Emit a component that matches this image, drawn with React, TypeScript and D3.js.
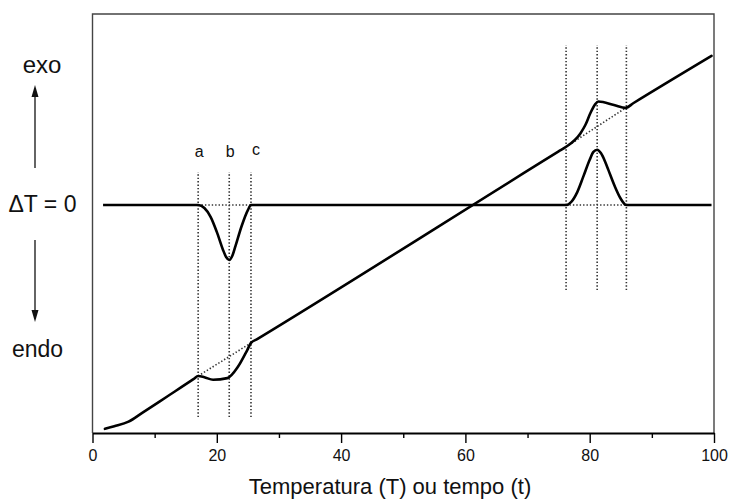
import React, {useRef, useEffect} from 'react';
import * as d3 from 'd3';

// DTA signal (delta T), y in arbitrary units 0..100
const dtaTemp = [1.7, 10, 16, 17, 18, 19, 20, 21, 21.5, 22, 22.5, 23, 24, 25, 25.5, 27, 60, 75, 76.2, 77, 78, 79, 80, 80.6, 81.2, 81.8, 82.5, 83, 84, 85, 85.9, 87, 99.6];
const dtaSignal = [54.4, 54.4, 54.4, 54.4, 53.7, 51.6, 48.0, 43.7, 42.0, 41.3, 42.3, 44.6, 49.4, 53.2, 54.4, 54.4, 54.4, 54.4, 54.4, 55.1, 57.5, 61.3, 65.2, 67.1, 67.6, 66.8, 64.7, 62.8, 59.0, 55.9, 54.4, 54.4, 54.4];

// sample temperature curve
const sampleTemp = [2, 3.5, 5.8, 8, 11.9, 16.3, 17, 18, 19.4, 21.7, 23.4, 24.9, 25.5, 26.5, 75, 76.2, 78.5, 79.3, 80.1, 80.9, 81.4, 83.9, 85.8, 87, 99.6];
const sampleSignal = [1.0, 1.6, 2.7, 4.8, 8.6, 12.9, 13.6, 13.3, 12.7, 13.1, 15.8, 19.8, 21.5, 22.4, 67.2, 68.3, 71.5, 73.5, 76.3, 78.5, 79.1, 78.3, 77.6, 78.7, 90.0];

// transition markers a, b, c and the exothermic event
const markerTemps = [17, 22, 25.5, 76.2, 81.2, 85.9];
const markerLabels = ['a', 'b', 'c'];
const markerSpanLow = [3.8, 62.3];
const markerSpanHigh = [34.1, 92.6];

// extrapolated baselines (dotted)
const extrapLow = [[17, 13.6], [25.5, 21.5]];
const extrapHigh = [[76.2, 68.3], [85.8, 77.6]];
const dtaBase = 54.4;

const majorTicks = [0, 20, 40, 60, 80, 100];
const minorTicks = [10, 30, 50, 70, 90];

export default function App(){
        const ref = useRef(null);

        const margin = {top: 14, right: 15, bottom: 66, left: 92.5};
        const W = 729, H = 499;
        const width = W - margin.left - margin.right;
        const height = H - margin.top - margin.bottom;
        const font = "'Liberation Sans', Arial, sans-serif";

        useEffect(() => {
            const svg = d3.select(ref.current);
            svg.selectAll('*').remove();

            const x = d3.scaleLinear().domain([0, 100]).range([0, width]);
            const y = d3.scaleLinear().domain([0, 100]).range([height, 0]);

            const g = svg.append('g')
            .attr('transform', 'translate(' + margin.left + ',' + margin.top + ')');

// frame
            g.append('path')
            .attr('d', `M0,${height}V0H${width}V${height}`)
            .attr('fill', 'none')
            .attr('stroke', '#444')
            .attr('stroke-width', 1.4);

// x axis, major + minor ticks
            const ax = g.append('g')
            .attr('transform', 'translate(0,' + height + ')')
            .call(d3.axisBottom(x).tickValues(majorTicks).tickSize(10).tickPadding(7).tickSizeOuter(0).tickFormat(d3.format('d')));
            ax.select('.domain').attr('stroke-width', 1.8);
            ax.selectAll('.tick line').attr('stroke-width', 1.4);
            ax.selectAll('text').attr('font-size', 16).attr('font-family', font).attr('fill', '#111');

            const mx = g.append('g')
            .attr('transform', 'translate(0,' + height + ')')
            .call(d3.axisBottom(x).tickValues(minorTicks).tickSize(5).tickFormat(() => ''));
            mx.select('.domain').remove();
            mx.selectAll('.tick line').attr('stroke-width', 1.4);

            const dotted = (sel) => sel
            .attr('stroke', '#333')
            .attr('stroke-width', 1.6)
            .attr('stroke-dasharray', '1.4 2')
            .attr('fill', 'none');

// vertical marker lines
            g.append('g')
            .selectAll('line')
            .data(markerTemps)
            .enter()
            .append('line')
            .attr('x1', d => x(d))
            .attr('x2', d => x(d))
            .attr('y1', (d, i) => y(i < 3 ? markerSpanLow[0] : markerSpanHigh[0]))
            .attr('y2', (d, i) => y(i < 3 ? markerSpanLow[1] : markerSpanHigh[1]))
            .call(dotted);

// dotted baselines
            const straight = d3.line().x(d => x(d[0])).y(d => y(d[1]));
            [extrapLow, extrapHigh,
             [[markerTemps[0], dtaBase], [markerTemps[2], dtaBase]],
             [[markerTemps[3], dtaBase], [markerTemps[5], dtaBase]]]
            .forEach(seg => g.append('path').attr('d', straight(seg)).call(dotted));

// curves
            const curve = d3.line()
            .x(d => x(d[0]))
            .y(d => y(d[1]))
            .curve(d3.curveMonotoneX);

            g.append('path')
            .attr('d', curve(dtaTemp.map((t, i) => [t, dtaSignal[i]])))
            .attr('fill', 'none')
            .attr('stroke', '#000')
            .attr('stroke-width', 2.6)
            .attr('stroke-linejoin', 'round');

            g.append('path')
            .attr('d', curve(sampleTemp.map((t, i) => [t, sampleSignal[i]])))
            .attr('fill', 'none')
            .attr('stroke', '#000')
            .attr('stroke-width', 2.6)
            .attr('stroke-linejoin', 'round')
            .attr('stroke-linecap', 'round');

// a b c labels
            g.append('g')
            .selectAll('text')
            .data(markerLabels)
            .enter()
            .append('text')
            .attr('x', (d, i) => x(markerTemps[i]) + (i === 2 ? 5 : 1))
            .attr('y', (d, i) => i === 2 ? 141 : 143)
            .attr('text-anchor', 'middle')
            .attr('font-size', 16)
            .attr('font-family', font)
            .attr('fill', '#111')
            .text(d => d);

// axis title
            svg.append('text')
            .attr('x', 390)
            .attr('y', 494)
            .attr('text-anchor', 'middle')
            .attr('font-size', 22)
            .attr('font-family', font)
            .attr('fill', '#111')
            .text('Temperatura (T) ou tempo (t)');

// left side labels and arrows
            const side = svg.append('g').attr('font-family', font).attr('fill', '#111').attr('text-anchor', 'middle');
            side.append('text').attr('x', 42).attr('y', 73).attr('font-size', 24).text('exo');
            side.append('text').attr('x', 42.5).attr('y', 212).attr('font-size', 23).text('\u0394T = 0');
            side.append('text').attr('x', 37.5).attr('y', 357).attr('font-size', 23).text('endo');

            svg.append('line').attr('x1', 35).attr('x2', 35).attr('y1', 168).attr('y2', 95)
            .attr('stroke', '#111').attr('stroke-width', 1.3);
            svg.append('path').attr('d', 'M35,85L31.5,97L38.5,97Z').attr('fill', '#111');
            svg.append('line').attr('x1', 35).attr('x2', 35).attr('y1', 240).attr('y2', 312)
            .attr('stroke', '#111').attr('stroke-width', 1.3);
            svg.append('path').attr('d', 'M35,322L31.5,310L38.5,310Z').attr('fill', '#111');

        }, []);

        return(
            <div style={{position: 'absolute', left: 0, top: 0, background: '#fff'}}>
                <svg ref={ref} width={W} height={H} style={{display: 'block'}}/>
            </div>
        )
}
